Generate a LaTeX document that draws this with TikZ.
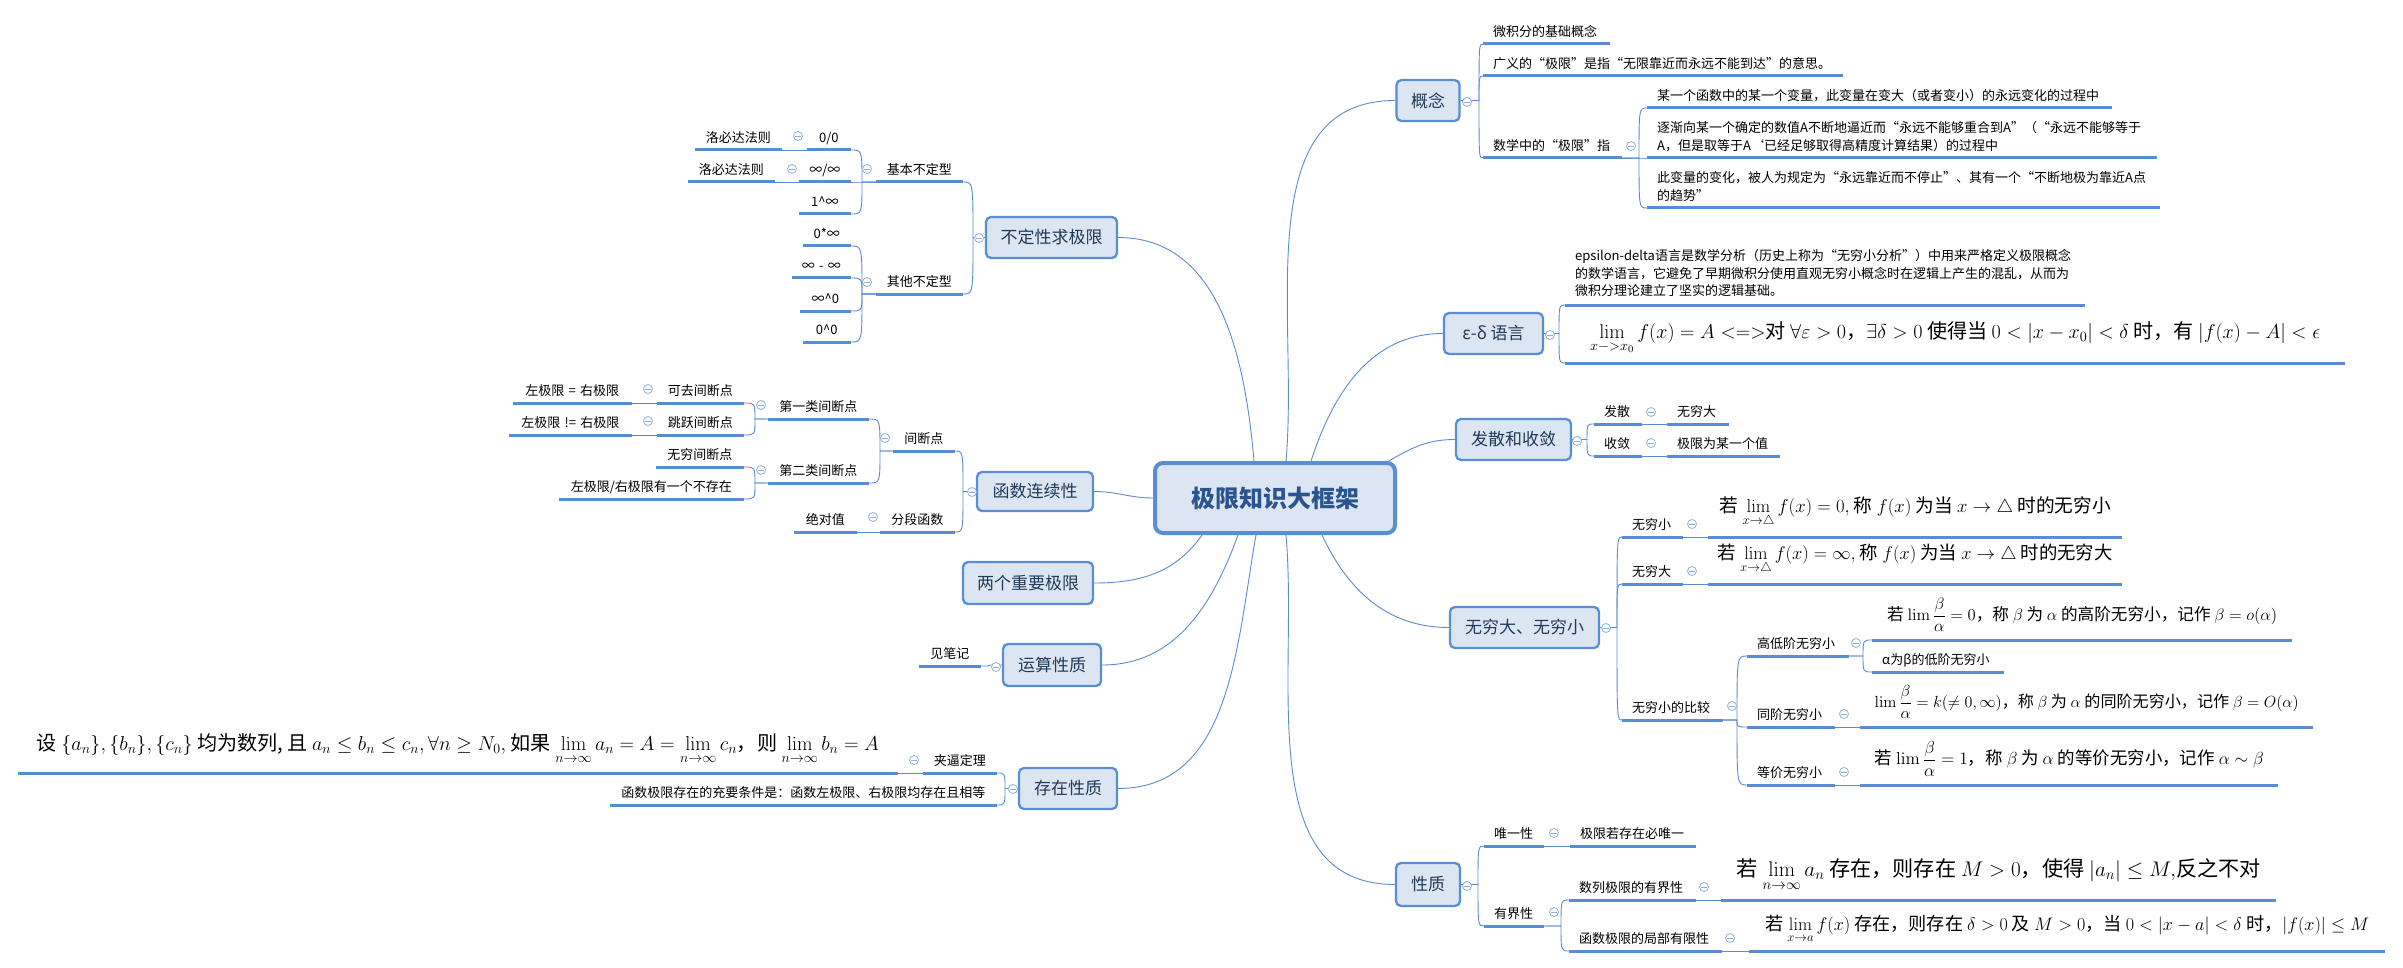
\documentclass[tikz,border=0pt]{standalone}
\usepackage{fix-cm}
\usepackage{amsmath}
\usepackage{graphicx}
\usepackage[no-math]{fontspec}
\setmainfont{Noto Sans CJK SC}
\definecolor{connc}{HTML}{5B8BD0}
\definecolor{ulc}{HTML}{568DD3}
\definecolor{bord}{HTML}{5A8ED4}
\definecolor{boxfill}{HTML}{DCE6F2}
\definecolor{boxtext}{HTML}{1F3A5A}
\definecolor{ctext}{HTML}{2A5490}
\definecolor{btnc}{HTML}{8EB1DD}
\tikzset{
  connl/.style={draw=connc, line width=0.9pt},
  ulline/.style={draw=ulc, line width=3pt},
  mbox/.style={draw=bord, fill=boxfill, line width=2.3pt, rounded corners=5pt, text=boxtext, font=\fontsize{17}{20}\selectfont, inner sep=0pt},
  cbox/.style={draw=bord, fill=boxfill, line width=4pt, rounded corners=8pt, text=ctext, font=\fontsize{24}{28}\selectfont\bfseries, inner sep=0pt},
  rleaf/.style={anchor=south west, inner xsep=10pt, inner ysep=4pt, text depth=3pt, align=left, text width=#1, font=\fontsize{13}{18}\selectfont},
  lleaf/.style={anchor=south east, inner xsep=10pt, inner ysep=4pt, text depth=3pt, align=center, text width=#1, font=\fontsize{13}{18}\selectfont},
  rform/.style={anchor=south west, inner xsep=0pt, inner ysep=8pt, align=center, minimum width=#1},
  lform/.style={anchor=south east, inner xsep=0pt, inner ysep=8pt, align=center, minimum width=#1},
  btn/.style={circle, draw=btnc, fill=white, line width=0.8pt, minimum size=9pt, inner sep=0pt,
    path picture={\draw[btnc, line width=0.8pt] ([xshift=-2.6pt]path picture bounding box.center) -- ([xshift=2.6pt]path picture bounding box.center);}},
}
\newcommand\ch[3]{\draw[connl] (#1) -- (#2 |- #1) .. controls (#2 |- #3) .. (#3);}
\newcommand\fw[2]{\resizebox{#1}{!}{#2}}
\begin{document}
\begin{tikzpicture}[x=1pt,y=-1pt]
\fill[white] (0,0) rectangle (2403,968);
\useasboundingbox (0,0) rectangle (2403,968);

% central and main boxes
\node[cbox, minimum width=240pt, minimum height=70pt] (ct) at (1275,498) {极限知识大框架};
\node[mbox, minimum width=63pt, minimum height=41pt] (kn) at (1428,100.5) {概念};
\node[mbox, minimum width=99pt, minimum height=41pt] (ed) at (1493.5,333.5) {ε-δ 语言};
\node[mbox, minimum width=115pt, minimum height=41pt] (fs) at (1513.5,439.5) {发散和收敛};
\node[mbox, minimum width=149pt, minimum height=41pt] (wq) at (1524.5,627.5) {无穷大、无穷小};
\node[mbox, minimum width=64pt, minimum height=43pt] (xz) at (1428,884.5) {性质};
\node[mbox, minimum width=131pt, minimum height=41pt] (bd) at (1051.5,237.5) {不定性求极限};
\node[mbox, minimum width=116pt, minimum height=39pt] (hs) at (1035,491.5) {函数连续性};
\node[mbox, minimum width=130pt, minimum height=42pt] (lg) at (1028,583) {两个重要极限};
\node[mbox, minimum width=98pt, minimum height=42pt] (ys) at (1052,665) {运算性质};
\node[mbox, minimum width=98pt, minimum height=41pt] (cz) at (1068,788.5) {存在性质};

% spines
\coordinate (s-kn) at (1479,0);
\coordinate (s-kn3) at (1639,0);
\coordinate (s-ed) at (1559,0);
\coordinate (s-fs) at (1587,0);
\coordinate (s-wq) at (1617,0);
\coordinate (s-wq3) at (1737,0);
\coordinate (s-wq31) at (1863,0);
\coordinate (s-xz) at (1478,0);
\coordinate (s-xz2) at (1561,0);
\coordinate (s-bd) at (973,0);
\coordinate (s-bd1) at (862,0);
\coordinate (s-hs) at (963,0);
\coordinate (s-hs1) at (880,0);
\coordinate (s-hs11) at (755,0);
\coordinate (s-ys) at (990,0);
\coordinate (s-cz) at (1005,0);

% ---- right: 概念
\node[rleaf=107pt] (kn1) at (1483,44) {微积分的基础概念};
\node[rleaf=340pt] (kn2) at (1483,76) {广义的“极限”是指“无限靠近而永远不能到达”的意思。};
\node[rleaf=119pt] (kn3) at (1483,158) {数学中的“极限”指};
\node[rleaf=445pt] (kn31) at (1647,108) {某一个函数中的某一个变量，此变量在变大（或者变小）的永远变化的过程中};
\node[rleaf=490pt, text depth=21pt] (kn32) at (1647,158) {逐渐向某一个确定的数值A不断地逼近而“永远不能够重合到A”（“永远不能够等于\\A，但是取等于A‘已经足够取得高精度计算结果）的过程中};
\node[rleaf=493pt, text depth=21pt] (kn33) at (1647,208) {此变量的变化，被人为规定为“永远靠近而不停止”、其有一个“不断地极为靠近A点\\的趋势”};

% ---- right: ε-δ
\node[rleaf=500pt, inner ysep=6pt, text depth=38pt, font=\fontsize{13}{17.5}\selectfont] (ed1) at (1565,305) {epsilon-delta语言是数学分析（历史上称为“无穷小分析”）中用来严格定义极限概念\\的数学语言，它避免了早期微积分使用直观无穷小概念时在逻辑上产生的混乱，从而为\\微积分理论建立了坚实的逻辑基础。};
\node[rform=780pt, font=\fontsize{17}{20}\selectfont] (ed2) at (1565,363) {\fw{730pt}{$\lim\limits_{x->x_0} f(x) = A <=>$对 $\forall\varepsilon>0$，$\exists\delta>0$ 使得当 $0<|x-x_0|<\delta$ 时，有 $|f(x)-A|<\epsilon$}};

% ---- right: 发散和收敛
\node[rleaf=28pt] (fs1) at (1594,424) {发散};
\node[rleaf=28pt] (fs2) at (1594,456) {收敛};
\node[rleaf=42pt] (fs11) at (1667,424) {无穷大};
\node[rleaf=93pt] (fs21) at (1667,456) {极限为某一个值};

% ---- right: 无穷大、无穷小
\node[rleaf=41pt] (wq1) at (1622,537) {无穷小};
\node[rleaf=41pt] (wq2) at (1622,584) {无穷大};
\node[rleaf=81pt] (wq3) at (1622,720) {无穷小的比较};
\node[rform=414pt, font=\fontsize{18}{20}\selectfont] (wq11) at (1708,537) {\fw{391pt}{若 $\lim\limits_{x\to\triangle} f(x)=0,$ 称 $f(x)$ 为当 $x\to\triangle$ 时的无穷小}};
\node[rform=414pt, font=\fontsize{18}{20}\selectfont] (wq21) at (1708,584) {\fw{395pt}{若 $\lim\limits_{x\to\triangle} f(x)=\infty,$ 称 $f(x)$ 为当 $x\to\triangle$ 时的无穷大}};
\node[rleaf=82pt] (wq31) at (1747,656) {高低阶无穷小};
\node[rleaf=68pt] (wq32) at (1747,727) {同阶无穷小};
\node[rleaf=68pt] (wq33) at (1747,785) {等价无穷小};
\node[rform=420pt, font=\fontsize{16}{20}\selectfont] (wq311) at (1872,640) {\fw{390pt}{若 $\lim\dfrac{\beta}{\alpha}=0$，称 $\beta$ 为 $\alpha$ 的高阶无穷小，记作 $\beta=o(\alpha)$}};
\node[rleaf=112pt] (wq312) at (1872,672) {α为β的低阶无穷小};
\node[rform=453pt, font=\fontsize{16}{20}\selectfont] (wq321) at (1860,727) {\fw{424pt}{$\lim\dfrac{\beta}{\alpha}=k(\neq 0,\infty)$，称 $\beta$ 为 $\alpha$ 的同阶无穷小，记作 $\beta=O(\alpha)$}};
\node[rform=418pt, font=\fontsize{16}{20}\selectfont] (wq331) at (1860,785) {\fw{389pt}{若 $\lim\dfrac{\beta}{\alpha}=1$，称 $\beta$ 为 $\alpha$ 的等价无穷小，记作 $\alpha\sim\beta$}};

% ---- right: 性质
\node[rleaf=40pt] (xz1) at (1484,846) {唯一性};
\node[rleaf=40pt] (xz2) at (1484,926) {有界性};
\node[rleaf=106pt] (xz11) at (1570,846) {极限若存在必唯一};
\node[rleaf=107pt] (xz21) at (1569,900) {数列极限的有界性};
\node[rleaf=133pt] (xz22) at (1569,951) {函数极限的局部有限性};
\node[rform=555pt, font=\fontsize{20.5}{22}\selectfont] (xz211) at (1721,900) {\fw{524pt}{若 $\lim\limits_{n\to\infty} a_n$ 存在，则存在 $M>0$，使得 $|a_n|\leq M,$反之不对}};
\node[rform=636pt, font=\fontsize{18}{20}\selectfont] (xz221) at (1749,951) {\fw{604pt}{若 $\lim\limits_{x\to a} f(x)$ 存在，则存在 $\delta>0$ 及 $M>0$，当 $0<|x-a|<\delta$ 时，$|f(x)|\leq M$}};

% ---- left: 不定性求极限
\node[lleaf=67pt] (bd1) at (963,182) {基本不定型};
\node[lleaf=67pt] (bd2) at (963,294) {其他不定型};
\node[lleaf=24pt] (bd11) at (851,150) {0/0};
\node[lleaf=32pt] (bd12) at (851,182) {∞/∞};
\node[lleaf=32pt] (bd13) at (851,214) {1\textasciicircum∞};
\node[lleaf=67pt] (bd111) at (782,150) {洛必达法则};
\node[lleaf=67pt] (bd121) at (775,182) {洛必达法则};
\node[lleaf=28pt] (bd21) at (851,246) {0*∞};
\node[lleaf=39pt] (bd22) at (851,278) {\mbox{∞ - ∞}};
\node[lleaf=31pt] (bd23) at (851,311) {∞\textasciicircum 0};
\node[lleaf=28pt] (bd24) at (851,342) {0\textasciicircum 0};

% ---- left: 函数连续性
\node[lleaf=42pt] (hs1) at (955,451) {间断点};
\node[lleaf=55pt] (hs2) at (955,532) {分段函数};
\node[lleaf=81pt] (hs11) at (869,419) {第一类间断点};
\node[lleaf=81pt] (hs12) at (869,483) {第二类间断点};
\node[lleaf=67pt] (hs111) at (744,403) {可去间断点};
\node[lleaf=67pt] (hs112) at (744,435) {跳跃间断点};
\node[lleaf=99pt] (hs1111) at (632,403) {\mbox{左极限 = 右极限}};
\node[lleaf=103pt] (hs1121) at (632,435) {\mbox{左极限 != 右极限}};
\node[lleaf=68pt] (hs121) at (744,467) {无穷间断点};
\node[lleaf=165pt] (hs122) at (744,499) {左极限/右极限有一个不存在};
\node[lleaf=43pt] (hs21) at (857,532) {绝对值};

% ---- left: 运算性质
\node[lleaf=42pt] (ys1) at (981,666) {见笔记};

% ---- left: 存在性质
\node[lleaf=54pt] (cz1) at (997,773) {夹逼定理};
\node[lleaf=367pt] (cz2) at (997,805) {函数极限存在的充要条件是：函数左极限、右极限均存在且相等};
\node[lform=880pt, font=\fontsize{20}{22}\selectfont] (cz11) at (898,773) {\fw{842pt}{设 $\{a_n\},\{b_n\},\{c_n\}$ 均为数列, 且 $a_n\leq b_n\leq c_n, \forall n\geq N_0,$ 如果 $\lim\limits_{n\to\infty} a_n=A=\lim\limits_{n\to\infty} c_n$，则 $\lim\limits_{n\to\infty} b_n=A$}};

% ---- connectors from the centre
\draw[connl] ([xshift=-21pt]ct.north) to[out=95,in=0] (bd.east);
\draw[connl] ([xshift=11pt]ct.north) to[out=85,in=180] (kn.west);
\draw[connl] ([xshift=36pt]ct.north) to[out=72,in=180] (ed.west);
\draw[connl] ([xshift=-10pt,yshift=-1pt]ct.north east) to[out=30,in=180] (fs.west);
\draw[connl] ([xshift=47pt]ct.south) to[out=-65,in=180] (wq.west);
\draw[connl] ([xshift=11pt]ct.south) to[out=-85,in=180] (xz.west);
\draw[connl] ([xshift=-19pt]ct.south) to[out=-100,in=0] (cz.east);
\draw[connl] ([xshift=-37pt]ct.south) to[out=-110,in=0] (ys.east);
\draw[connl] ([xshift=-73pt]ct.south) to[out=-125,in=0] (lg.east);
\draw[connl] (ct.west) to[out=180,in=0] (hs.east);

% ---- tree connectors, right
\ch{kn.east}{s-kn}{kn1.south west}
\ch{kn.east}{s-kn}{kn2.south west}
\ch{kn.east}{s-kn}{kn3.south west}
\ch{kn3.south east}{s-kn3}{kn31.south west}
\ch{kn3.south east}{s-kn3}{kn32.south west}
\ch{kn3.south east}{s-kn3}{kn33.south west}
\ch{ed.east}{s-ed}{ed1.south west}
\ch{ed.east}{s-ed}{ed2.south west}
\ch{fs.east}{s-fs}{fs1.south west}
\ch{fs.east}{s-fs}{fs2.south west}
\draw[connl] (fs1.south east) -- (fs11.south west);
\draw[connl] (fs2.south east) -- (fs21.south west);
\ch{wq.east}{s-wq}{wq1.south west}
\ch{wq.east}{s-wq}{wq2.south west}
\ch{wq.east}{s-wq}{wq3.south west}
\draw[connl] (wq1.south east) -- (wq11.south west);
\draw[connl] (wq2.south east) -- (wq21.south west);
\ch{wq3.south east}{s-wq3}{wq31.south west}
\ch{wq3.south east}{s-wq3}{wq32.south west}
\ch{wq3.south east}{s-wq3}{wq33.south west}
\ch{wq31.south east}{s-wq31}{wq311.south west}
\ch{wq31.south east}{s-wq31}{wq312.south west}
\draw[connl] (wq32.south east) -- (wq321.south west);
\draw[connl] (wq33.south east) -- (wq331.south west);
\ch{xz.east}{s-xz}{xz1.south west}
\ch{xz.east}{s-xz}{xz2.south west}
\draw[connl] (xz1.south east) -- (xz11.south west);
\ch{xz2.south east}{s-xz2}{xz21.south west}
\ch{xz2.south east}{s-xz2}{xz22.south west}
\draw[connl] (xz21.south east) -- (xz211.south west);
\draw[connl] (xz22.south east) -- (xz221.south west);

% ---- tree connectors, left
\ch{bd.west}{s-bd}{bd1.south east}
\ch{bd.west}{s-bd}{bd2.south east}
\ch{bd1.south west}{s-bd1}{bd11.south east}
\ch{bd1.south west}{s-bd1}{bd12.south east}
\ch{bd1.south west}{s-bd1}{bd13.south east}
\ch{bd2.south west}{s-bd1}{bd21.south east}
\ch{bd2.south west}{s-bd1}{bd22.south east}
\ch{bd2.south west}{s-bd1}{bd23.south east}
\ch{bd2.south west}{s-bd1}{bd24.south east}
\draw[connl] (bd11.south west) -- (bd111.south east);
\draw[connl] (bd12.south west) -- (bd121.south east);
\ch{hs.west}{s-hs}{hs1.south east}
\ch{hs.west}{s-hs}{hs2.south east}
\ch{hs1.south west}{s-hs1}{hs11.south east}
\ch{hs1.south west}{s-hs1}{hs12.south east}
\ch{hs11.south west}{s-hs11}{hs111.south east}
\ch{hs11.south west}{s-hs11}{hs112.south east}
\ch{hs12.south west}{s-hs11}{hs121.south east}
\ch{hs12.south west}{s-hs11}{hs122.south east}
\draw[connl] (hs111.south west) -- (hs1111.south east);
\draw[connl] (hs112.south west) -- (hs1121.south east);
\draw[connl] (hs2.south west) -- (hs21.south east);
\ch{ys.west}{s-ys}{ys1.south east}
\ch{cz.west}{s-cz}{cz1.south east}
\ch{cz.west}{s-cz}{cz2.south east}
\draw[connl] (cz1.south west) -- (cz11.south east);

% ---- underlines
\foreach \n in {kn1,kn2,kn3,kn31,kn32,kn33,ed1,ed2,fs1,fs2,fs11,fs21,wq1,wq2,wq3,wq11,wq21,wq31,wq32,wq33,wq311,wq312,wq321,wq331,xz1,xz2,xz11,xz21,xz22,xz211,xz221,bd1,bd2,bd11,bd12,bd13,bd111,bd121,bd21,bd22,bd23,bd24,hs1,hs2,hs11,hs12,hs111,hs112,hs1111,hs1121,hs121,hs122,hs21,ys1,cz1,cz2,cz11}
  \draw[ulline] (\n.south west) -- (\n.south east);

% ---- collapse buttons
\foreach \p [count=\i] in {(1467,102),(1631,146),(1550,335),(1577,441),(1651,412),(1651,443),(1606,628),(1692,524),(1692,571),(1732,706),(1856,643),(1844,714),(1844,772),(1467,886),(1554,833),(1554,912),(1704,887),(1730,938),(979,238),(867,169),(867,282),(798,136),(792,169),(885,438),(873,517),(761,405),(761,470),(648,389),(648,421),(972,492),(996,667),(1013,789),(914,760)}
  \node[btn] (btn\i) at \p {};
\end{tikzpicture}
\end{document}
